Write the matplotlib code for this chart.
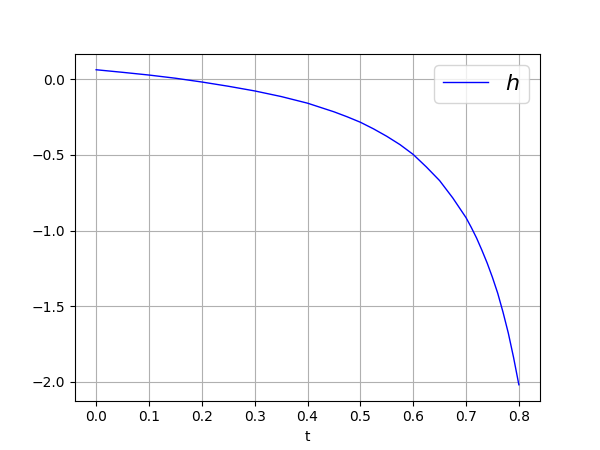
import numpy as np
import matplotlib
matplotlib.use('Agg')
import matplotlib.pyplot as plt

# values
t = [0.0, 0.05, 0.1, 0.15, 0.2, 0.25, 0.3, 0.35, 0.4, 0.45, 0.475, 0.5,
     0.525, 0.55, 0.575, 0.6, 0.625, 0.65, 0.675, 0.7, 0.71, 0.72, 0.73,
     0.74, 0.75, 0.76, 0.77, 0.78, 0.79, 0.8]
h = [0.063, 0.046, 0.028, 0.007, -0.018, -0.046, -0.077, -0.114, -0.158,
     -0.215, -0.248, -0.284, -0.328, -0.377, -0.432, -0.497, -0.58, -0.67,
     -0.785, -0.915, -0.98, -1.05, -1.13, -1.215, -1.31, -1.415, -1.54,
     -1.678, -1.84, -2.02]

fig = plt.figure(figsize=(6, 4.5), dpi=100)
plt.plot(t, h, color='blue', linewidth=1, label='$h$')
plt.xlabel('t')
plt.grid(True)
plt.legend(loc='upper right', fontsize=16)
plt.savefig('out.png')
